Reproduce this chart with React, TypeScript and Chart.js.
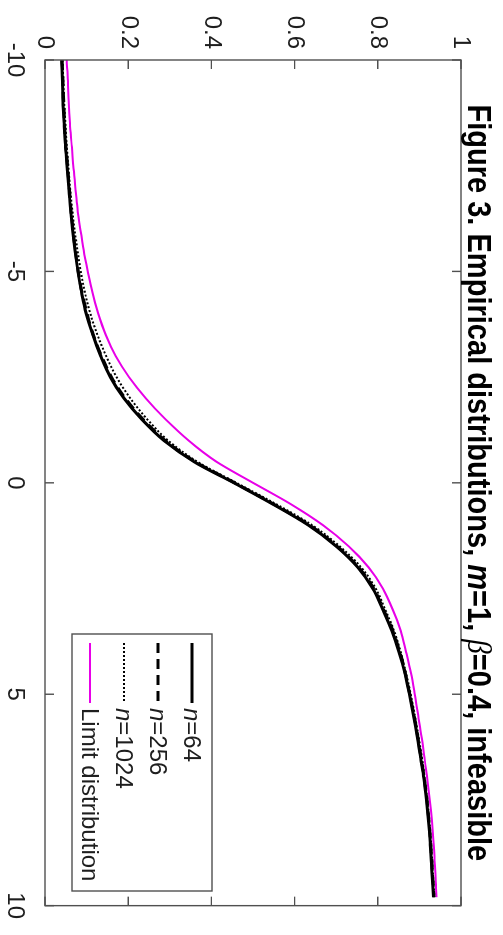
import React, { useEffect, useRef } from "react";
import { Chart, registerables } from "chart.js";

Chart.register(...registerables);

// ---------- data ----------
const X_VALUES = [
  -10, -9.5, -9, -8.5, -8, -7.5, -7, -6.5, -6, -5.5,
  -5, -4.5, -4, -3.5, -3, -2.5, -2, -1.5, -1, -0.5,
  0, 0.5, 1, 1.5, 2, 2.5, 3, 3.5, 4, 4.5,
  5, 5.5, 6, 6.5, 7, 7.5, 8, 8.5, 9, 9.5, 9.8,
];

const N64 = [
  0.040, 0.042, 0.043, 0.046, 0.049, 0.053, 0.057, 0.061, 0.066, 0.072,
  0.079, 0.088, 0.099, 0.115, 0.134, 0.157, 0.190, 0.233, 0.286, 0.358,
  0.454, 0.547, 0.633, 0.700, 0.752, 0.788, 0.812, 0.834, 0.851, 0.865,
  0.876, 0.886, 0.895, 0.903, 0.911, 0.917, 0.922, 0.926, 0.929, 0.932, 0.934,
];

const N256 = [
  0.041, 0.043, 0.045, 0.047, 0.050, 0.054, 0.058, 0.062, 0.067, 0.073,
  0.080, 0.089, 0.101, 0.116, 0.136, 0.160, 0.193, 0.236, 0.289, 0.361,
  0.456, 0.549, 0.636, 0.702, 0.754, 0.790, 0.814, 0.836, 0.853, 0.866,
  0.877, 0.887, 0.896, 0.904, 0.912, 0.918, 0.923, 0.927, 0.930, 0.933, 0.935,
];

const N1024 = [
  0.042, 0.044, 0.046, 0.049, 0.052, 0.056, 0.060, 0.065, 0.071, 0.078,
  0.086, 0.096, 0.109, 0.126, 0.147, 0.172, 0.205, 0.246, 0.296, 0.366,
  0.460, 0.555, 0.642, 0.708, 0.760, 0.795, 0.818, 0.839, 0.855, 0.868,
  0.879, 0.889, 0.898, 0.906, 0.913, 0.919, 0.924, 0.928, 0.931, 0.934, 0.936,
];

const LIMIT = [
  0.052, 0.055, 0.057, 0.060, 0.064, 0.068, 0.073, 0.078, 0.085, 0.093,
  0.103, 0.114, 0.128, 0.146, 0.170, 0.202, 0.242, 0.290, 0.345, 0.412,
  0.500, 0.590, 0.668, 0.730, 0.778, 0.812, 0.836, 0.855, 0.868, 0.880,
  0.889, 0.897, 0.905, 0.912, 0.919, 0.925, 0.930, 0.934, 0.937, 0.940, 0.941,
];

const X_TICKS = [-10, -5, 0, 5, 10];
const Y_TICKS = [0, 0.2, 0.4, 0.6, 0.8, 1];
const SERIES_NAMES = ["n=64", "n=256", "n=1024", "Limit distribution"];

// ---------- layout constants ----------
const W = 935;
const H = 503;
const FONT = "'Liberation Sans', Arial, sans-serif";
const AXIS_COLOR = "#505050";
const TEXT_COLOR = "#1e1e1e";

const toPoints = (ys: number[]) => X_VALUES.map((x, i) => ({ x, y: ys[i] }));

// draw a label where a leading "n" is italic
function drawLegendLabel(ctx: CanvasRenderingContext2D, label: string, x: number, y: number) {
  ctx.textBaseline = "middle";
  ctx.textAlign = "left";
  if (label.startsWith("n=")) {
    ctx.font = `italic 24px ${FONT}`;
    ctx.fillText("n", x, y);
    const w = ctx.measureText("n").width;
    ctx.font = `24px ${FONT}`;
    ctx.fillText(label.slice(1), x + w, y);
  } else {
    ctx.font = `24px ${FONT}`;
    ctx.fillText(label, x, y);
  }
}

const framePlugin = {
  id: "frameTicks",
  afterDatasetsDraw(chart: any) {
    const { ctx, chartArea, scales } = chart;
    const { left, right, top, bottom } = chartArea;
    const len = 9;
    ctx.save();
    ctx.strokeStyle = AXIS_COLOR;
    ctx.lineWidth = 1.4;
    ctx.beginPath();
    X_TICKS.forEach((v) => {
      const px = scales.x.getPixelForValue(v);
      ctx.moveTo(px, bottom);
      ctx.lineTo(px, bottom - len);
      ctx.moveTo(px, top);
      ctx.lineTo(px, top + len);
    });
    Y_TICKS.forEach((v) => {
      const py = scales.y.getPixelForValue(v);
      ctx.moveTo(left, py);
      ctx.lineTo(left + len, py);
      ctx.moveTo(right, py);
      ctx.lineTo(right - len, py);
    });
    ctx.stroke();
    ctx.strokeRect(left, top, right - left, bottom - top);
    ctx.restore();
  },
};

const legendPlugin = {
  id: "innerLegend",
  afterDraw(chart: any) {
    const { ctx } = chart;
    const boxL = 634;
    const boxT = 291;
    const boxW = 257;
    const boxH = 140;
    const rowH = 34;
    ctx.save();
    ctx.fillStyle = "#ffffff";
    ctx.fillRect(boxL, boxT, boxW, boxH);
    ctx.strokeStyle = AXIS_COLOR;
    ctx.lineWidth = 1.4;
    ctx.strokeRect(boxL, boxT, boxW, boxH);
    chart.data.datasets.forEach((ds: any, i: number) => {
      const cy = boxT + 20 + i * rowH;
      ctx.strokeStyle = ds.borderColor;
      ctx.lineWidth = ds.borderWidth;
      ctx.setLineDash(ds.borderDash || []);
      ctx.beginPath();
      ctx.moveTo(boxL + 9, cy);
      ctx.lineTo(boxL + 69, cy);
      ctx.stroke();
      ctx.setLineDash([]);
      ctx.fillStyle = TEXT_COLOR;
      drawLegendLabel(ctx, ds.label, boxL + 74, cy + 1);
    });
    ctx.restore();
  },
};

const titlePlugin = {
  id: "richTitle",
  afterDraw(chart: any) {
    const { ctx, chartArea } = chart;
    const size = 33;
    const sx = 0.88;
    const segs = [
      { t: "Figure 3. Empirical distributions, ", f: `bold ${size}px ${FONT}` },
      { t: "m", f: `italic bold ${size}px ${FONT}` },
      { t: "=1, ", f: `bold ${size}px ${FONT}` },
      { t: "\u03B2", f: `italic ${size}px 'Liberation Serif', serif` },
      { t: "=0.4, infeasible", f: `bold ${size}px ${FONT}` },
    ];
    ctx.save();
    let total = 0;
    const widths = segs.map((s) => {
      ctx.font = s.f;
      const w = ctx.measureText(s.t).width;
      total += w;
      return w;
    });
    const cx = (chartArea.left + chartArea.right) / 2;
    ctx.translate(cx, 35);
    ctx.scale(sx, 1);
    let x = -total / 2;
    ctx.fillStyle = "#000";
    ctx.textBaseline = "alphabetic";
    ctx.textAlign = "left";
    segs.forEach((s, i) => {
      ctx.font = s.f;
      ctx.fillText(s.t, x, 0);
      x += widths[i];
    });
    ctx.restore();
  },
};

export default function App() {
  const ref = useRef<HTMLCanvasElement | null>(null);

  useEffect(() => {
    if (!ref.current) return;
    const common = { pointRadius: 0, cubicInterpolationMode: "monotone" as const };
    const chart = new Chart(ref.current, {
      type: "line",
      data: {
        datasets: [
          {
            label: SERIES_NAMES[0],
            data: toPoints(N64),
            borderColor: "#000000",
            borderWidth: 3,
            ...common,
          },
          {
            label: SERIES_NAMES[1],
            data: toPoints(N256),
            borderColor: "#000000",
            borderWidth: 3,
            borderDash: [10, 6],
            ...common,
          },
          {
            label: SERIES_NAMES[2],
            data: toPoints(N1024),
            borderColor: "#000000",
            borderWidth: 2,
            borderDash: [2, 2],
            ...common,
          },
          {
            label: SERIES_NAMES[3],
            data: toPoints(LIMIT),
            borderColor: "rgb(232, 0, 232)",
            borderWidth: 2,
            ...common,
          },
        ],
      },
      options: {
        animation: false,
        responsive: false,
        devicePixelRatio: 1,
        layout: { padding: { top: 42, right: 18, left: 0, bottom: 0 } },
        plugins: {
          legend: { display: false },
          title: { display: false },
          tooltip: { enabled: false },
        },
        scales: {
          x: {
            type: "linear",
            min: -10,
            max: 10,
            afterBuildTicks: (s: any) => {
              s.ticks = X_TICKS.map((v) => ({ value: v }));
            },
            afterFit: (s: any) => {
              s.height = 45;
            },
            grid: { display: false, drawTicks: false },
            border: { display: false },
            ticks: {
              padding: 16,
              color: TEXT_COLOR,
              font: { family: FONT, size: 24 },
              maxRotation: 0,
              callback: (v: any) => String(v),
            },
          },
          y: {
            type: "linear",
            min: 0,
            max: 1,
            afterBuildTicks: (s: any) => {
              s.ticks = Y_TICKS.map((v) => ({ value: v }));
            },
            afterFit: (s: any) => {
              s.width = 60;
            },
            grid: { display: false, drawTicks: false },
            border: { display: false },
            ticks: {
              padding: 11,
              color: TEXT_COLOR,
              font: { family: FONT, size: 24 },
              callback: (v: any) => String(Math.round(v * 10) / 10),
            },
          },
        },
      },
      plugins: [framePlugin, legendPlugin, titlePlugin],
    });
    return () => chart.destroy();
  }, []);

  return (
    <div
      style={{
        position: "absolute",
        left: 0,
        top: 0,
        width: W,
        height: H,
        transformOrigin: "0 0",
        transform: `translate(${H}px, 0px) rotate(90deg)`,
        background: "#fff",
      }}
    >
      <canvas ref={ref} width={W} height={H} style={{ width: W, height: H, display: "block" }} />
    </div>
  );
}
